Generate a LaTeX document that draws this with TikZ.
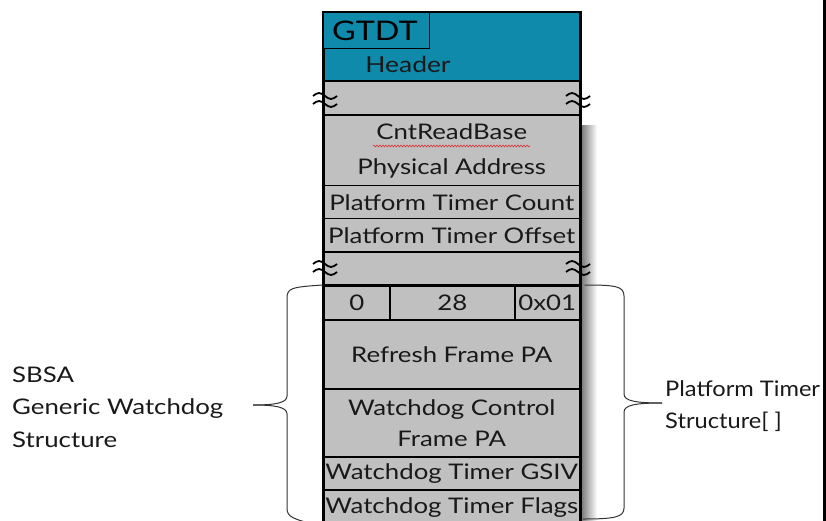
\documentclass[tikz,border=0pt]{standalone}
\usepackage{fontspec}
\setmainfont{Lato}[FakeStretch=1.2]
\newfontfamily\narrowlabel{Lato}[FakeStretch=1.1]
\usetikzlibrary{decorations.pathmorphing}
\definecolor{hdrteal}{HTML}{108AAA}
\definecolor{cellgray}{HTML}{C0C0C0}
\definecolor{squig}{HTML}{E03030}
\tikzset{
  cell/.style={draw=black, line width=1.5pt, fill=cellgray, inner sep=0pt,
    align=center, font=\fontsize{21.5}{31}\selectfont, text=black!90},
  wave/.style={line width=1.8pt, black},
  bracepath/.style={line width=1pt, black!80},
  sidelabel/.style={align=left, anchor=west, inner sep=0pt,
    font=\fontsize{21.5}{32.5}\selectfont, text=black!90}
}
% one approximately-equal break mark centred at (#1,#2)
\newcommand{\breakmark}[2]{%
  \foreach \dy in {-4,4}{
    \draw[wave] (#1-12,#2+\dy) sin (#1-6,#2+\dy-3) cos (#1,#2+\dy) sin (#1+6,#2+\dy+3) cos (#1+12,#2+\dy);
  }}
\begin{document}
\begin{tikzpicture}[x=1pt,y=-1pt]
\useasboundingbox (0,0) rectangle (826,521);
\begin{scope}
\clip (0,0) rectangle (826,521);
% drop shadow on the right of the table
\shade[left color=black!60, right color=white] (579,126) rectangle (597,521);

% header block
\node[cell, fill=hdrteal, minimum width=256pt, minimum height=69pt, anchor=north west] (hdr) at (323,12) {};
\node[cell, fill=hdrteal, line width=1pt, minimum width=106pt, minimum height=36pt, anchor=north west] (gtdt) at (323,12) {};
\node[anchor=west, inner sep=0pt, font=\fontsize{27}{30}\selectfont] (gtdttext) at (332,31) {GTDT};
\node[inner sep=0pt, font=\fontsize{22}{26}\selectfont, text=black!90] (hdrtext) at (408,64) {Header};

% rows of the table
\node[cell, minimum width=256pt, minimum height=34pt, anchor=north west] (gap1) at (323,81) {};
\node[cell, minimum width=256pt, minimum height=70pt, anchor=north west, font=\fontsize{21.5}{35}\selectfont] (cnt) at (323,115) {CntReadBase\\Physical Address};
\node[cell, minimum width=256pt, minimum height=33pt, anchor=north west] (ptc) at (323,185) {Platform Timer Count};
\node[cell, minimum width=256pt, minimum height=33pt, anchor=north west] (pto) at (323,218) {Platform Timer Offset};
\node[cell, minimum width=256pt, minimum height=34pt, anchor=north west] (gap2) at (323,251) {};
\node[cell, minimum width=66pt, minimum height=34pt, anchor=north west] (f0) at (323,285) {0};
\node[cell, minimum width=125pt, minimum height=34pt, anchor=north west] (f28) at (389,285) {28};
\node[cell, minimum width=65pt, minimum height=34pt, anchor=north west] (f01) at (514,285) {0x01};
\node[cell, minimum width=256pt, minimum height=69pt, anchor=north west] (rfr) at (323,319) {Refresh Frame PA};
\node[cell, minimum width=256pt, minimum height=68pt, anchor=north west] (wcf) at (323,388) {Watchdog Control\\Frame PA};
\node[cell, minimum width=256pt, minimum height=33pt, anchor=north west] (gsiv) at (323,456) {Watchdog Timer GSIV};
\node[cell, minimum width=256pt, minimum height=36pt, anchor=north west] (flags) at (323,489) {Watchdog Timer Flags};

% outer frame of the table
\draw[line width=2.5pt] (hdr.north west) rectangle (flags.south east);
\draw[line width=2.5pt] (gap1.north west) -- (gap1.north east);
\draw[line width=2.5pt] (cnt.north west) -- (cnt.north east);
\draw[line width=2.5pt] (f0.north west) -- (f01.north east);

% spelling squiggle under CntReadBase
\draw[squig, line width=0.6pt, decorate, decoration={snake, amplitude=0.9pt, segment length=3pt}] (373,146) -- (530,146);

% break marks across the frame
\breakmark{325}{100}
\breakmark{578}{100}
\breakmark{325}{268}
\breakmark{578}{268}

% braces grouping the timer structure
\coordinate (ltip) at (253,405);
\coordinate (rtip) at (662,403);
\draw[bracepath] (f0.north west) .. controls (292,287) and (287,288) .. (287,298)
  -- (287,396) .. controls (287,403) and (275,405) .. (ltip);
\draw[bracepath] (ltip) .. controls (275,405) and (287,407) .. (287,414)
  -- (287,508) .. controls (287,517) and (292,519) .. (flags.south west);
\draw[bracepath] (f01.north east) ++(4,0) .. controls (615,285) and (624,286) .. (624,296)
  -- (624,394) .. controls (624,401) and (636,403) .. (rtip);
\draw[bracepath] (rtip) .. controls (636,403) and (624,405) .. (624,412)
  -- (624,508) .. controls (624,517) and (615,519) .. (583,519);

% side labels
\node[sidelabel] (sbsa) at (12,407) {SBSA\\Generic Watchdog\\Structure};
\node[sidelabel, font=\narrowlabel\fontsize{21.5}{32.5}\selectfont] (ptstruct) at (665,406) {Platform Timer\\Structure[ ]};
\end{scope}
% right border line
\draw[line width=2.5pt] (824.5,0) -- (824.5,521);
\end{tikzpicture}
\end{document}
